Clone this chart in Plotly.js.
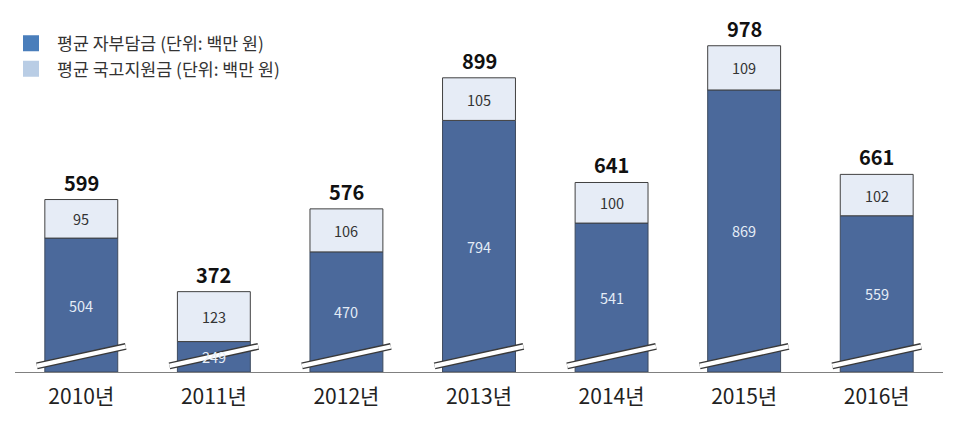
<!DOCTYPE html>
<html>
<head>
<meta charset="utf-8">
<script src="https://cdn.plot.ly/plotly-3.0.1.min.js"></script>
<style>
  html, body { margin: 0; padding: 0; background: #fff; }
  #myDiv { width: 962px; height: 426px; }
</style>
</head>
<body>
<div id="myDiv"></div>
<script>
var years = ["2010년", "2011년", "2012년", "2013년", "2014년", "2015년", "2016년"];
var selfPay = [504, 249, 470, 794, 541, 869, 559];
var govSupport = [95, 123, 106, 105, 100, 109, 102];
var totals = [599, 372, 576, 899, 641, 978, 661];

// broken axis: bars start at this value
var axisFloor = 174;
var font = "'Noto Sans CJK KR', 'Noto Sans', sans-serif";

var darkBase = years.map(function () { return axisFloor; });
var darkLen = selfPay.map(function (v) { return v - axisFloor; });

var trace1 = {
  x: years,
  y: darkLen,
  base: darkBase,
  marker: {color: '#4b699b', line: {color: '#3d4a5e', width: 1}},
  type: 'bar',
  showlegend: false,
  hoverinfo: 'none'
};

var trace2 = {
  x: years,
  y: govSupport,
  base: selfPay,
  marker: {color: '#e6ecf6', line: {color: '#404040', width: 1}},
  type: 'bar',
  showlegend: false,
  hoverinfo: 'none'
};

// legend-only entries
var leg1 = {
  x: [null], y: [null], type: 'scatter', mode: 'markers',
  name: '평균 자부담금 (단위: 백만 원)',
  marker: {symbol: 'square', size: 16, color: '#4a7ebb'}
};
var leg2 = {
  x: [null], y: [null], type: 'scatter', mode: 'markers',
  name: '평균 국고지원금 (단위: 백만 원)',
  marker: {symbol: 'square', size: 16, color: '#b9cde5'}
};

// axis break marks
var shapes = [];
years.forEach(function (yr, i) {
  [{c: '#3a3a3a', w: 7}, {c: '#ffffff', w: 4.2}].forEach(function (s) {
    shapes.push({
      type: 'line', xref: 'x', yref: 'y',
      x0: i - 0.335, x1: i + 0.335, y0: 189, y1: 237,
      line: {color: s.c, width: s.w}, layer: 'above'
    });
  });
});

// value labels (annotations so they sit over the break marks)
var annotations = [];
years.forEach(function (yr, i) {
  annotations.push({
    x: yr, y: (axisFloor + selfPay[i]) / 2, text: String(selfPay[i]),
    showarrow: false, font: {family: font, size: 14.5, color: '#e4ecf6'}
  });
  annotations.push({
    x: yr, y: selfPay[i] + govSupport[i] / 2, text: String(govSupport[i]),
    showarrow: false, font: {family: font, size: 14.5, color: '#333333'}
  });
  annotations.push({
    x: yr, y: totals[i], text: '<b>' + totals[i] + '</b>',
    showarrow: false, yanchor: 'bottom', yshift: 1,
    font: {family: font, size: 20, color: '#111111'}
  });
});

var data = [trace1, trace2, leg1, leg2];

var layout = {
  width: 962,
  height: 426,
  margin: {l: 15, r: 19, t: 36, b: 54, autoexpand: false},
  barmode: 'overlay',
  bargap: 0.45,
  paper_bgcolor: '#ffffff',
  plot_bgcolor: '#ffffff',
  font: {family: font, color: '#222222'},
  showlegend: true,
  legend: {
    xref: 'container', yref: 'container',
    x: 0.0052, y: 0.94, xanchor: 'left', yanchor: 'top',
    font: {family: font, size: 17.3, color: '#333333'},
    itemwidth: 42,
    bgcolor: 'rgba(0,0,0,0)'
  },
  xaxis: {
    type: 'category',
    showline: true,
    linecolor: '#808080',
    linewidth: 1,
    ticks: '',
    ticklabelstandoff: 6,
    showgrid: false,
    zeroline: false,
    tickfont: {family: font, size: 21, color: '#222222'},
    fixedrange: true
  },
  yaxis: {
    range: [axisFloor, 1002],
    visible: false,
    showgrid: false,
    zeroline: false,
    fixedrange: true
  },
  shapes: shapes,
  annotations: annotations
};

Plotly.newPlot('myDiv', data, layout, {displayModeBar: false, staticPlot: true});
</script>
</body>
</html>
